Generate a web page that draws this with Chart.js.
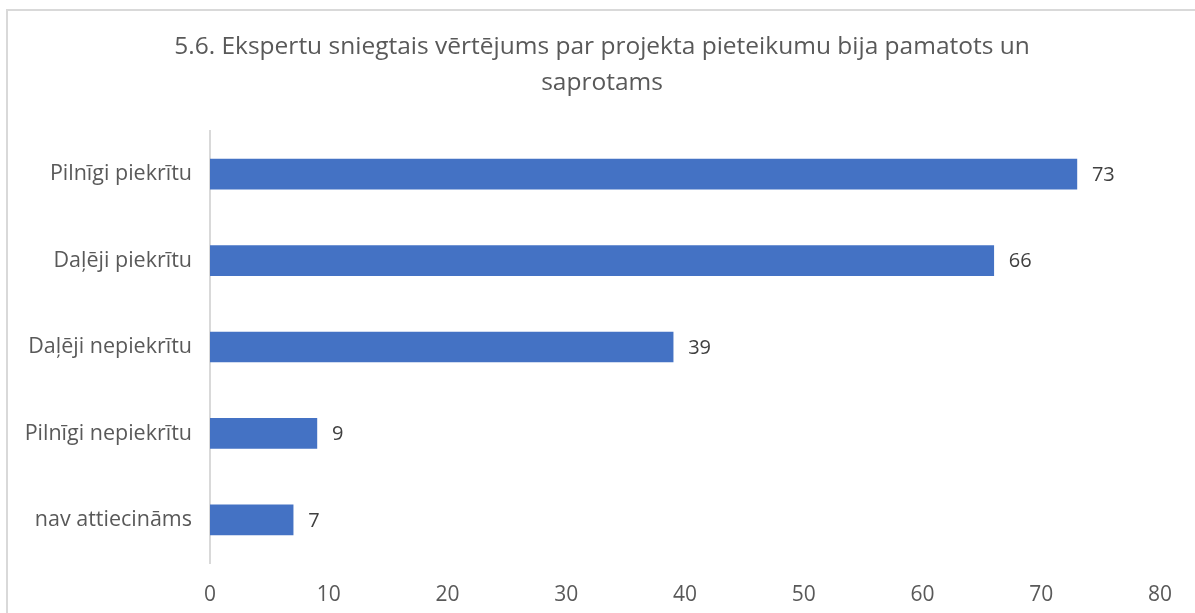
<!DOCTYPE html>
<html>
<head>
<meta charset="utf-8">
<style>
  html, body { margin: 0; padding: 0; background: #fff; overflow: hidden; }
  #frame { position: absolute; left: 6px; top: 9px; width: 1400px; height: 800px; border: 2px solid #d9d9d9; }
  #wrap { position: absolute; left: 0; top: 0; width: 1195px; height: 613px; }
</style>
<script src="https://cdn.jsdelivr.net/npm/chart.js"></script>
</head>
<body>
<div id="frame"></div>
<div id="wrap"><canvas id="chart" width="1195" height="613"></canvas></div>
<script>
const titleLines = ['5.6. Ekspertu sniegtais vērtējums par projekta pieteikumu bija pamatots un', 'saprotams'];
const categories = ['Pilnīgi piekrītu', 'Daļēji piekrītu', 'Daļēji nepiekrītu', 'Pilnīgi nepiekrītu', 'nav attiecināms'];
const values = [73, 66, 39, 9, 7];
const xTicks = [0, 10, 20, 30, 40, 50, 60, 70, 80];

const FONT = "'Open Sans', sans-serif";

// title centred on the whole canvas (the chart area is offset to the right)
const centredTitle = {
  id: 'centredTitle',
  afterDraw(chart) {
    const ctx = chart.ctx;
    ctx.save();
    ctx.font = '24.5px ' + FONT;
    ctx.fillStyle = '#595959';
    ctx.textAlign = 'center';
    ctx.textBaseline = 'middle';
    titleLines.forEach((line, i) => ctx.fillText(line, 602, 47 + i * 36));
    ctx.restore();
  }
};

// value labels at the end of each bar
const barLabels = {
  id: 'barLabels',
  afterDatasetsDraw(chart) {
    const ctx = chart.ctx;
    const meta = chart.getDatasetMeta(0);
    ctx.save();
    ctx.font = '20px ' + FONT;
    ctx.fillStyle = '#404040';
    ctx.textAlign = 'left';
    ctx.textBaseline = 'middle';
    meta.data.forEach((bar, i) => {
      ctx.fillText(String(values[i]), bar.x + 15, bar.y + 1);
    });
    ctx.restore();
  }
};

new Chart(document.getElementById('chart').getContext('2d'), {
  type: 'bar',
  data: {
    labels: categories,
    datasets: [{
      data: values,
      backgroundColor: '#4472C4',
      borderWidth: 0,
      barThickness: 30
    }]
  },
  options: {
    indexAxis: 'y',
    responsive: false,
    animation: false,
    layout: { padding: { top: 131, right: 35, left: 0, bottom: 0 } },
    plugins: {
      legend: { display: false },
      tooltip: { enabled: false },
      title: { display: false }
    },
    scales: {
      x: {
        min: 0,
        max: 80,
        afterBuildTicks: axis => { axis.ticks = xTicks.map(v => ({ value: v })); },
        afterFit: axis => { axis.height = 50; },
        grid: { display: false },
        border: { display: false },
        ticks: { color: '#595959', font: { family: FONT, size: 21 }, padding: 11 }
      },
      y: {
        afterFit: axis => { axis.width = 210; },
        grid: { display: false },
        border: { display: true, color: '#d9d9d9', width: 2 },
        ticks: { color: '#595959', font: { family: FONT, size: 21.5 }, padding: 10 }
      }
    }
  },
  plugins: [barLabels, centredTitle]
});
</script>
</body>
</html>
